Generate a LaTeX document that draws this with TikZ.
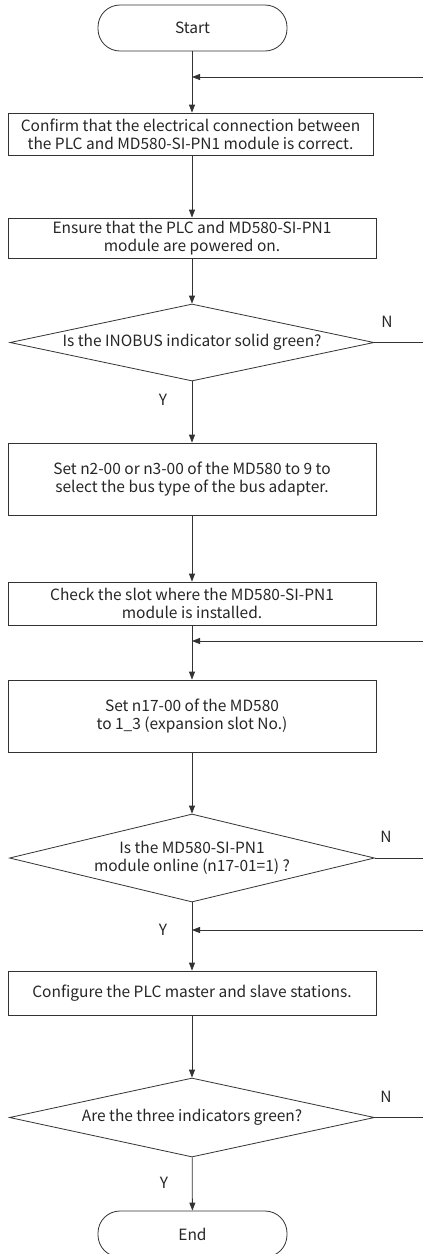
\documentclass[tikz,border=0pt]{standalone}
\usepackage{fontspec}
\setmainfont{Noto Sans CJK SC}
\usetikzlibrary{arrows.meta,shapes.geometric}
\tikzset{
  every node/.style={font=\fontsize{15.5}{18}\selectfont, text=black!85},
  flow/.style={draw=black!80, line width=0.8pt},
  stepbox/.style={flow, rectangle, inner sep=0pt, align=center},
  term/.style={flow, rectangle, rounded corners=22pt, inner sep=0pt, minimum width=189pt, minimum height=46pt},
  decision/.style={flow, diamond, inner sep=0pt, align=center},
  arr/.style={draw=black!80, line width=0.8pt, -{Triangle[length=8pt,width=6pt]}},
  ln/.style={draw=black!80, line width=0.8pt},
  lbl/.style={inner sep=0pt}
}
\begin{document}
\begin{tikzpicture}[x=1pt,y=-1pt]
\clip (0,0) rectangle (423,1254);
\fill[white] (0,0) rectangle (423,1254);

\node[term] (start) at (192.5,28) {Start};
\node[stepbox, minimum width=365pt, minimum height=42pt] (b1) at (190.5,134)
  {Confirm that the electrical connection between\\the PLC and MD580-SI-PN1 module is correct.};
\node[stepbox, minimum width=368pt, minimum height=40pt] (b2) at (192,238)
  {Ensure that the PLC and MD580-SI-PN1\\module are powered on.};
\node[decision, minimum width=364pt, minimum height=77pt, aspect=4.7] (d1) at (192,342.5)
  {Is the INOBUS indicator solid green?};
\node[stepbox, minimum width=368pt, minimum height=72pt] (b3) at (192,479)
  {Set n2-00 or n3-00 of the MD580 to 9 to\\select the bus type of the bus adapter.};
\node[stepbox, minimum width=368pt, minimum height=43pt] (b4) at (192,603.5)
  {Check the slot where the MD580-SI-PN1\\module is installed.};
\node[stepbox, minimum width=368pt, minimum height=72pt] (b5) at (192,716)
  {Set n17-00 of the MD580\\to 1\_3 (expansion slot No.)};
\node[decision, minimum width=365pt, minimum height=88pt, aspect=4.15] (d2) at (192,858)
  {Is the MD580-SI-PN1\\module online (n17-01=1) ?};
\node[stepbox, minimum width=368pt, minimum height=44pt] (b6) at (192,993)
  {Configure the PLC master and slave stations.};
\node[decision, minimum width=365pt, minimum height=79pt, aspect=4.6] (d3) at (192,1117.5)
  {Are the three indicators green?};
\node[term] (end) at (192.5,1234) {End};

% join points
\coordinate (j1) at (192,77);
\coordinate (r1) at (423,77);
\coordinate (j2) at (192,641);
\coordinate (r2) at (423,641);
\coordinate (j3) at (192,930);
\coordinate (r3) at (423,930);
\coordinate (e1) at (423,342.5);
\coordinate (e2) at (423,858);
\coordinate (e3) at (423,1117.5);

\draw[ln] (start.south -| j1) -- (j1);
\draw[arr] (j1) -- (b1.north -| j1);
\draw[arr] (r1) -- (j1);
\draw[arr] (b1.south -| b2.north) -- (b2.north);
\draw[arr] (b2) -- (d1);
\draw[arr] (d1) -- (b3);
\draw[arr] (b3) -- (b4);
\draw[ln] (b4.south) -- (j2);
\draw[arr] (j2) -- (b5.north);
\draw[arr] (r2) -- (j2);
\draw[arr] (b5) -- (d2);
\draw[ln] (d2.south) -- (j3);
\draw[arr] (j3) -- (b6.north);
\draw[arr] (r3) -- (j3);
\draw[arr] (b6) -- (d3);
\draw[arr] (d3) -- (end);
\draw[ln] (d1.east) -- (e1);
\draw[ln] (d2.east) -- (e2);
\draw[ln] (d3.east) -- (e3);

\node[lbl] (n1) at (387,322) {N};
\node[lbl] (n2) at (386,837) {N};
\node[lbl] (n3) at (386,1097) {N};
\node[lbl] (y1) at (163,400) {Y};
\node[lbl] (y2) at (163,930) {Y};
\node[lbl] (y3) at (164,1183) {Y};
\end{tikzpicture}
\end{document}
